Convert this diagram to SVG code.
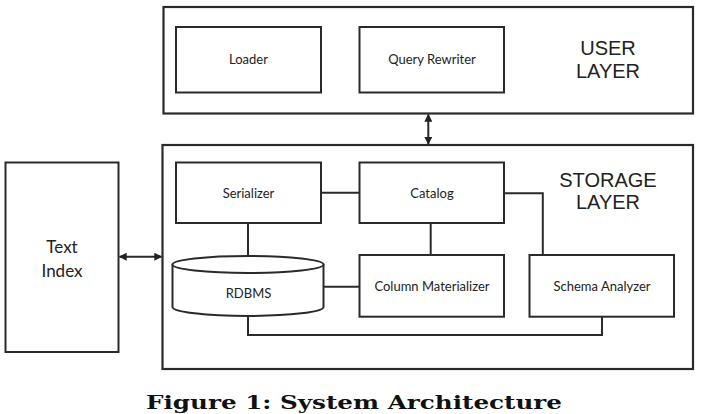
<svg xmlns="http://www.w3.org/2000/svg" width="703" height="414" viewBox="0 0 703 414">
<style>
.box{fill:#fff;stroke:#2a2a2a;stroke-width:2}
.outer{fill:#fff;stroke:#2a2a2a;stroke-width:2.2}
.lbl{font-family:Lato,"Liberation Sans",sans-serif;font-size:13px;fill:#222;text-anchor:middle}
.big{font-family:"Liberation Sans",Arial,sans-serif;font-size:20px;fill:#222;text-anchor:middle}
.con{fill:none;stroke:#2a2a2a;stroke-width:2}
</style>
<defs>
<marker id="ah" viewBox="0 0 10 10" refX="9" refY="5" markerWidth="4" markerHeight="4" orient="auto-start-reverse">
<path d="M0,0 L10,5 L0,10 z" fill="#222"/>
</marker>
</defs>
<rect width="703" height="414" fill="#fff"/>
<g id="user-layer">
<rect class="outer" x="163.5" y="7" width="529.5" height="106.5"/>
<text class="big" x="608" y="54.5">USER</text>
<text class="big" x="608" y="77.5">LAYER</text>
</g>
<g id="loader">
<rect class="box" x="176" y="27" width="145" height="65.5"/>
<text class="lbl" x="248.5" y="64">Loader</text>
</g>
<g id="query-rewriter">
<rect class="box" x="359.5" y="27" width="144.5" height="65.5"/>
<text class="lbl" x="432" y="64">Query Rewriter</text>
</g>
<g id="storage-layer">
<rect class="outer" x="162.5" y="145" width="530.5" height="224"/>
<text class="big" x="608" y="186.5">STORAGE</text>
<text class="big" x="608" y="208.5">LAYER</text>
</g>
<g id="text-index">
<rect class="box" x="5.5" y="162.5" width="113" height="189.5"/>
<text class="lbl" style="font-size:17px" x="62" y="253">Text</text>
<text class="lbl" style="font-size:17px" x="62" y="276.5">Index</text>
</g>
<g id="connectors">
<line class="con" x1="428.3" y1="114.5" x2="428.3" y2="144" marker-start="url(#ah)" marker-end="url(#ah)"/>
<line class="con" x1="119.5" y1="256.7" x2="161.5" y2="256.7" marker-start="url(#ah)" marker-end="url(#ah)"/>
<line class="con" x1="321" y1="192.7" x2="359.5" y2="192.7"/>
<line class="con" x1="248" y1="223" x2="248" y2="256"/>
<line class="con" x1="430.7" y1="223" x2="430.7" y2="255"/>
<line class="con" x1="323" y1="286.7" x2="359.5" y2="286.7"/>
<polyline class="con" points="504,193.3 542.8,193.3 542.8,255"/>
<polyline class="con" points="248,316 248,335 602,335 602,316.7"/>
</g>
<g id="serializer">
<rect class="box" x="176" y="162.5" width="145" height="60.5"/>
<text class="lbl" x="248.5" y="197.5">Serializer</text>
</g>
<g id="catalog">
<rect class="box" x="359.5" y="162.5" width="144.5" height="60.5"/>
<text class="lbl" x="432" y="198">Catalog</text>
</g>
<g id="rdbms">
<path class="box" d="M172.5,264 L172.5,307 A75.5,9 0 0 0 323.5,307 L323.5,264"/>
<ellipse class="box" cx="248" cy="264.5" rx="75.5" ry="8.5"/>
<text class="lbl" x="248.5" y="298">RDBMS</text>
</g>
<g id="column-materializer">
<rect class="box" x="359.5" y="255" width="144.5" height="61.7"/>
<text class="lbl" x="432" y="291">Column Materializer</text>
</g>
<g id="schema-analyzer">
<rect class="box" x="529.5" y="255" width="144.5" height="61.7"/>
<text class="lbl" x="602" y="291">Schema Analyzer</text>
</g>
<text x="146" y="408.5" font-family="'DejaVu Serif','Liberation Serif',serif" font-weight="bold" font-size="19" fill="#111" textLength="416" lengthAdjust="spacingAndGlyphs">Figure 1: System Architecture</text>
</svg>
